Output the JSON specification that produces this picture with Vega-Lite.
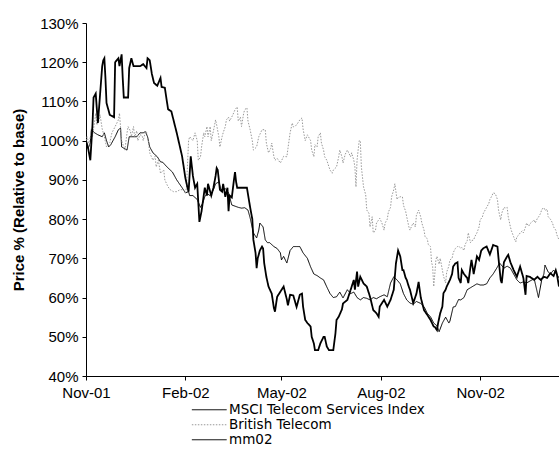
{
  "$schema": "https://vega.github.io/schema/vega-lite/v6.json",
  "width": 473,
  "height": 353,
  "autosize": {"type": "none"},
  "padding": {"left": 86, "top": 23, "right": 0, "bottom": 88},
  "background": "white",
  "config": {"font": "Liberation Sans", "view": {"stroke": null}},
  "datasets": {
    "mm02": [
      {"date":"2001-11-01","price":100},{"date":"2001-11-03","price":98},{"date":"2001-11-05","price":95},{"date":"2001-11-07","price":104},{"date":"2001-11-08","price":111},{"date":"2001-11-10","price":112},{"date":"2001-11-12","price":104.5},{"date":"2001-11-13","price":108},{"date":"2001-11-16","price":119},{"date":"2001-11-17","price":120.5},{"date":"2001-11-18","price":121},{"date":"2001-11-19","price":116},{"date":"2001-11-20","price":109.6},{"date":"2001-11-23","price":106.6},{"date":"2001-11-27","price":106},{"date":"2001-11-28","price":120},{"date":"2001-12-01","price":121},{"date":"2001-12-02","price":119},{"date":"2001-12-04","price":122},{"date":"2001-12-05","price":116},{"date":"2001-12-06","price":111},{"date":"2001-12-10","price":111},{"date":"2001-12-11","price":118.5},{"date":"2001-12-13","price":121},{"date":"2001-12-15","price":119},{"date":"2001-12-21","price":119},{"date":"2001-12-24","price":119.5},{"date":"2001-12-27","price":118.5},{"date":"2001-12-28","price":121},{"date":"2001-12-30","price":120.5},
      {"date":"2002-01-01","price":117},{"date":"2002-01-03","price":114.7},{"date":"2002-01-06","price":114},{"date":"2002-01-09","price":116},{"date":"2002-01-10","price":113.7},{"date":"2002-01-13","price":113.5},{"date":"2002-01-16","price":108},{"date":"2002-01-19","price":107.5},{"date":"2002-01-24","price":102},{"date":"2002-01-29","price":96},{"date":"2002-02-01","price":90.5},{"date":"2002-02-03","price":88},{"date":"2002-02-04","price":87},{"date":"2002-02-06","price":96},{"date":"2002-02-08","price":91},{"date":"2002-02-10","price":88},{"date":"2002-02-12","price":89},{"date":"2002-02-14","price":79.3},{"date":"2002-02-16","price":82},{"date":"2002-02-17","price":84},{"date":"2002-02-19","price":88},{"date":"2002-02-21","price":86},{"date":"2002-02-22","price":89},{"date":"2002-02-25","price":86},{"date":"2002-02-27","price":88},
      {"date":"2002-03-01","price":91},{"date":"2002-03-02","price":93},{"date":"2002-03-03","price":92.5},{"date":"2002-03-05","price":87.5},{"date":"2002-03-07","price":87},{"date":"2002-03-08","price":89},{"date":"2002-03-10","price":85.7},{"date":"2002-03-12","price":88},{"date":"2002-03-13","price":82},{"date":"2002-03-14","price":86},{"date":"2002-03-16","price":85.5},{"date":"2002-03-18","price":90},{"date":"2002-03-19","price":92},{"date":"2002-03-20","price":89.5},{"date":"2002-03-21","price":88},{"date":"2002-03-24","price":88},{"date":"2002-03-26","price":88},{"date":"2002-03-30","price":88},
      {"date":"2002-04-02","price":83},{"date":"2002-04-04","price":80},{"date":"2002-04-05","price":74.7},{"date":"2002-04-07","price":71.4},{"date":"2002-04-08","price":67.5},{"date":"2002-04-09","price":70},{"date":"2002-04-11","price":72},{"date":"2002-04-13","price":73},{"date":"2002-04-14","price":72.5},{"date":"2002-04-15","price":68.8},{"date":"2002-04-17","price":65.3},{"date":"2002-04-19","price":62.8},{"date":"2002-04-22","price":61},{"date":"2002-04-24","price":57.3},{"date":"2002-04-25","price":56.4},{"date":"2002-04-27","price":60.2},{"date":"2002-04-30","price":61.5},
      {"date":"2002-05-03","price":62.8},{"date":"2002-05-06","price":59.5},{"date":"2002-05-07","price":58},{"date":"2002-05-09","price":60.7},{"date":"2002-05-12","price":60.5},{"date":"2002-05-15","price":57.6},{"date":"2002-05-18","price":60.7},{"date":"2002-05-20","price":61},{"date":"2002-05-21","price":57.7},{"date":"2002-05-23","price":54.3},{"date":"2002-05-25","price":53.5},{"date":"2002-05-28","price":52.6},{"date":"2002-05-29","price":50},{"date":"2002-05-31","price":48.3},
      {"date":"2002-06-01","price":46.6},{"date":"2002-06-04","price":46.6},{"date":"2002-06-06","price":48.3},{"date":"2002-06-09","price":50},{"date":"2002-06-10","price":50},{"date":"2002-06-12","price":47.5},{"date":"2002-06-14","price":46.6},{"date":"2002-06-18","price":46.6},{"date":"2002-06-20","price":50.9},{"date":"2002-06-21","price":54.3},{"date":"2002-06-23","price":55.1},{"date":"2002-06-26","price":57},{"date":"2002-06-27","price":58.5},
      {"date":"2002-07-01","price":59.4},{"date":"2002-07-04","price":61.9},{"date":"2002-07-07","price":64.5},{"date":"2002-07-08","price":62},{"date":"2002-07-10","price":66.6},{"date":"2002-07-11","price":62.8},{"date":"2002-07-13","price":65.3},{"date":"2002-07-16","price":63.6},{"date":"2002-07-19","price":62.8},{"date":"2002-07-22","price":60.2},{"date":"2002-07-25","price":56.8},{"date":"2002-07-28","price":56},{"date":"2002-07-30","price":55.1},{"date":"2002-07-31","price":57.7},
      {"date":"2002-08-04","price":59.4},{"date":"2002-08-07","price":57.7},{"date":"2002-08-10","price":59.4},{"date":"2002-08-13","price":62},{"date":"2002-08-15","price":68.7},{"date":"2002-08-17","price":72},{"date":"2002-08-19","price":70.5},{"date":"2002-08-21","price":67},{"date":"2002-08-22","price":67},{"date":"2002-08-24","price":65},{"date":"2002-08-25","price":64.5},{"date":"2002-08-27","price":62.7},{"date":"2002-08-28","price":62},{"date":"2002-08-31","price":58.6},
      {"date":"2002-09-03","price":61},{"date":"2002-09-05","price":64},{"date":"2002-09-07","price":60},{"date":"2002-09-10","price":56.8},{"date":"2002-09-13","price":55.6},{"date":"2002-09-16","price":54.3},{"date":"2002-09-19","price":52.6},{"date":"2002-09-20","price":52.5},{"date":"2002-09-22","price":51.7},{"date":"2002-09-23","price":53.4},{"date":"2002-09-25","price":56},{"date":"2002-09-27","price":57.7},{"date":"2002-09-28","price":61.1},{"date":"2002-09-30","price":62},
      {"date":"2002-10-01","price":62.8},{"date":"2002-10-04","price":64.5},{"date":"2002-10-06","price":66},{"date":"2002-10-07","price":67.9},{"date":"2002-10-09","price":68.7},{"date":"2002-10-11","price":69},{"date":"2002-10-12","price":65},{"date":"2002-10-14","price":63.7},{"date":"2002-10-15","price":67},{"date":"2002-10-17","price":66},{"date":"2002-10-20","price":65},{"date":"2002-10-21","price":63.7},{"date":"2002-10-23","price":67.8},{"date":"2002-10-24","price":69.6},{"date":"2002-10-26","price":66},{"date":"2002-10-29","price":70.5},{"date":"2002-10-31","price":69.6},
      {"date":"2002-11-02","price":72},{"date":"2002-11-04","price":72.6},{"date":"2002-11-07","price":73},{"date":"2002-11-10","price":71},{"date":"2002-11-13","price":73.4},{"date":"2002-11-17","price":73},{"date":"2002-11-18","price":70},{"date":"2002-11-20","price":64.5},{"date":"2002-11-21","price":63.7},{"date":"2002-11-23","price":69},{"date":"2002-11-26","price":70.5},{"date":"2002-11-27","price":70.9},{"date":"2002-11-29","price":69},
      {"date":"2002-12-02","price":67},{"date":"2002-12-05","price":65.3},{"date":"2002-12-08","price":67.9},{"date":"2002-12-11","price":65},{"date":"2002-12-13","price":60.7},{"date":"2002-12-14","price":65.5},{"date":"2002-12-17","price":65.3},{"date":"2002-12-21","price":64.5},{"date":"2002-12-24","price":65.3},{"date":"2002-12-27","price":64.5},{"date":"2002-12-30","price":65.3},{"date":"2003-01-02","price":65},{"date":"2003-01-05","price":66.2},{"date":"2003-01-08","price":65.5},{"date":"2003-01-10","price":67},{"date":"2003-01-11","price":66},{"date":"2003-01-13","price":62.8}
    ],
    "msci": [
      {"date":"2001-11-01","price":100},{"date":"2001-11-03","price":98},{"date":"2001-11-05","price":99.5},{"date":"2001-11-06","price":102.8},{"date":"2001-11-09","price":102},{"date":"2001-11-12","price":101.5},{"date":"2001-11-16","price":101},{"date":"2001-11-18","price":102},{"date":"2001-11-20","price":100},{"date":"2001-11-22","price":98.4},{"date":"2001-11-24","price":99},{"date":"2001-11-26","price":100},{"date":"2001-11-28","price":101},{"date":"2001-12-01","price":102.8},{"date":"2001-12-03","price":103.2},{"date":"2001-12-04","price":98.4},{"date":"2001-12-09","price":97.6},{"date":"2001-12-11","price":101},{"date":"2001-12-13","price":101},{"date":"2001-12-18","price":101},{"date":"2001-12-21","price":102},{"date":"2001-12-24","price":102},{"date":"2001-12-26","price":102.3},{"date":"2001-12-28","price":101},{"date":"2001-12-30","price":98.4},
      {"date":"2002-01-02","price":96.9},{"date":"2002-01-06","price":95.9},{"date":"2002-01-09","price":94.6},{"date":"2002-01-11","price":94.5},{"date":"2002-01-15","price":93.3},{"date":"2002-01-20","price":92},{"date":"2002-01-24","price":90},{"date":"2002-01-29","price":88},{"date":"2002-02-01","price":86.7},{"date":"2002-02-04","price":87},{"date":"2002-02-05","price":86},{"date":"2002-02-08","price":86},{"date":"2002-02-12","price":85},{"date":"2002-02-15","price":83},{"date":"2002-02-17","price":84},{"date":"2002-02-19","price":85.7},{"date":"2002-02-21","price":86.5},{"date":"2002-02-24","price":86},{"date":"2002-02-27","price":87.5},
      {"date":"2002-03-01","price":89},{"date":"2002-03-04","price":89.5},{"date":"2002-03-06","price":87.5},{"date":"2002-03-10","price":87.8},{"date":"2002-03-13","price":86.7},{"date":"2002-03-16","price":83.6},{"date":"2002-03-19","price":83.3},{"date":"2002-03-22","price":83},{"date":"2002-03-25","price":82.8},{"date":"2002-03-28","price":82.9},{"date":"2002-03-31","price":82.3},
      {"date":"2002-04-02","price":80.3},{"date":"2002-04-05","price":76.5},{"date":"2002-04-08","price":75.2},{"date":"2002-04-10","price":77.2},{"date":"2002-04-11","price":79},{"date":"2002-04-14","price":78},{"date":"2002-04-16","price":74.7},{"date":"2002-04-18","price":74},{"date":"2002-04-20","price":74},{"date":"2002-04-24","price":73},{"date":"2002-04-27","price":72.5},{"date":"2002-04-30","price":71.4},
      {"date":"2002-05-01","price":69.6},{"date":"2002-05-03","price":70.5},{"date":"2002-05-06","price":68.8},{"date":"2002-05-09","price":72},{"date":"2002-05-12","price":73},{"date":"2002-05-15","price":73},{"date":"2002-05-18","price":73},{"date":"2002-05-21","price":71.4},{"date":"2002-05-25","price":70},{"date":"2002-05-28","price":67.8},{"date":"2002-05-31","price":66},
      {"date":"2002-06-03","price":65.6},{"date":"2002-06-06","price":65},{"date":"2002-06-09","price":64.5},{"date":"2002-06-12","price":62.7},{"date":"2002-06-15","price":61},{"date":"2002-06-18","price":60},{"date":"2002-06-21","price":60.2},{"date":"2002-06-24","price":61.4},{"date":"2002-06-27","price":59.9},
      {"date":"2002-07-01","price":62},{"date":"2002-07-04","price":61},{"date":"2002-07-07","price":61.4},{"date":"2002-07-10","price":60},{"date":"2002-07-13","price":59.4},{"date":"2002-07-16","price":60},{"date":"2002-07-19","price":59.8},{"date":"2002-07-22","price":59.4},{"date":"2002-07-25","price":60},{"date":"2002-07-28","price":59.7},{"date":"2002-07-31","price":60.2},
      {"date":"2002-08-04","price":60.7},{"date":"2002-08-07","price":60.2},{"date":"2002-08-10","price":63.7},{"date":"2002-08-13","price":65.3},{"date":"2002-08-16","price":64.5},{"date":"2002-08-19","price":63.5},{"date":"2002-08-22","price":61},{"date":"2002-08-25","price":59.4},{"date":"2002-08-28","price":58.6},{"date":"2002-08-31","price":58.3},
      {"date":"2002-09-03","price":59},{"date":"2002-09-07","price":58.5},{"date":"2002-09-10","price":57.7},{"date":"2002-09-13","price":56},{"date":"2002-09-16","price":55.1},{"date":"2002-09-19","price":53.5},{"date":"2002-09-22","price":52.8},{"date":"2002-09-24","price":51.3},{"date":"2002-09-27","price":53.5},{"date":"2002-09-30","price":55},
      {"date":"2002-10-03","price":53.5},{"date":"2002-10-04","price":54},{"date":"2002-10-07","price":57.6},{"date":"2002-10-09","price":57.7},{"date":"2002-10-12","price":59.5},{"date":"2002-10-14","price":59.4},{"date":"2002-10-17","price":60},{"date":"2002-10-20","price":62},{"date":"2002-10-23","price":62.5},{"date":"2002-10-26","price":63},{"date":"2002-10-29","price":63.5},
      {"date":"2002-11-01","price":63.2},{"date":"2002-11-04","price":63.2},{"date":"2002-11-07","price":63.5},{"date":"2002-11-10","price":65},{"date":"2002-11-13","price":66},{"date":"2002-11-17","price":67.8},{"date":"2002-11-19","price":68.8},{"date":"2002-11-23","price":67.5},{"date":"2002-11-26","price":68},{"date":"2002-11-29","price":67.5},
      {"date":"2002-12-02","price":66},{"date":"2002-12-05","price":64.5},{"date":"2002-12-08","price":63.7},{"date":"2002-12-11","price":64},{"date":"2002-12-14","price":63.7},{"date":"2002-12-17","price":64.2},{"date":"2002-12-21","price":64.8},{"date":"2002-12-24","price":61.2},{"date":"2002-12-25","price":60},{"date":"2002-12-28","price":64.5},{"date":"2002-12-30","price":66},{"date":"2002-12-31","price":68.3},{"date":"2003-01-03","price":66.5},{"date":"2003-01-05","price":66},{"date":"2003-01-08","price":67},{"date":"2003-01-11","price":66},{"date":"2003-01-13","price":65}
    ],
    "bt": [
      {"date":"2001-11-01","price":100},{"date":"2001-11-02","price":101},{"date":"2001-11-04","price":99},{"date":"2001-11-06","price":103},{"date":"2001-11-07","price":101},{"date":"2001-11-10","price":107},{"date":"2001-11-11","price":104},{"date":"2001-11-13","price":105},{"date":"2001-11-14","price":106.6},{"date":"2001-11-16","price":103},{"date":"2001-11-18","price":101},{"date":"2001-11-20","price":98.4},{"date":"2001-11-23","price":99.5},{"date":"2001-11-25","price":102},{"date":"2001-11-28","price":103.6},
      {"date":"2001-12-01","price":105.3},{"date":"2001-12-02","price":107},{"date":"2001-12-04","price":100},{"date":"2001-12-07","price":97.6},{"date":"2001-12-09","price":102},{"date":"2001-12-10","price":103.6},{"date":"2001-12-12","price":102.5},{"date":"2001-12-13","price":101},{"date":"2001-12-15","price":103.6},{"date":"2001-12-16","price":101},{"date":"2001-12-18","price":102.5},{"date":"2001-12-19","price":100},{"date":"2001-12-21","price":101.5},{"date":"2001-12-23","price":101.3},{"date":"2001-12-24","price":100},{"date":"2001-12-26","price":102.3},{"date":"2001-12-27","price":102.3},{"date":"2001-12-29","price":99.4},{"date":"2001-12-30","price":96.9},
      {"date":"2002-01-02","price":95},{"date":"2002-01-04","price":96},{"date":"2002-01-05","price":93.3},{"date":"2002-01-07","price":95},{"date":"2002-01-09","price":91.7},{"date":"2002-01-12","price":92.5},{"date":"2002-01-13","price":90},{"date":"2002-01-16","price":88.2},{"date":"2002-01-18","price":87.5},{"date":"2002-01-21","price":87},{"date":"2002-01-24","price":87},{"date":"2002-01-27","price":87.5},{"date":"2002-01-30","price":87.5},
      {"date":"2002-02-01","price":86.7},{"date":"2002-02-02","price":88},{"date":"2002-02-04","price":100},{"date":"2002-02-05","price":101},{"date":"2002-02-08","price":100},{"date":"2002-02-10","price":102},{"date":"2002-02-12","price":100},{"date":"2002-02-13","price":95},{"date":"2002-02-15","price":95.8},{"date":"2002-02-16","price":98.4},{"date":"2002-02-18","price":102},{"date":"2002-02-19","price":101},{"date":"2002-02-21","price":103.6},{"date":"2002-02-22","price":101},{"date":"2002-02-24","price":103.6},{"date":"2002-02-25","price":100},{"date":"2002-02-27","price":102.5},
      {"date":"2002-03-01","price":105.3},{"date":"2002-03-02","price":104},{"date":"2002-03-04","price":101},{"date":"2002-03-05","price":98.4},{"date":"2002-03-07","price":101},{"date":"2002-03-08","price":102},{"date":"2002-03-10","price":103.6},{"date":"2002-03-11","price":105.3},{"date":"2002-03-13","price":106},{"date":"2002-03-14","price":105},{"date":"2002-03-17","price":106.6},{"date":"2002-03-19","price":107.9},{"date":"2002-03-21","price":108.6},{"date":"2002-03-22","price":105},{"date":"2002-03-24","price":106},{"date":"2002-03-25","price":103.6},{"date":"2002-03-27","price":107},{"date":"2002-03-28","price":107.9},{"date":"2002-03-30","price":108.4},{"date":"2002-03-31","price":105},
      {"date":"2002-04-02","price":102.8},{"date":"2002-04-04","price":100},{"date":"2002-04-05","price":97.6},{"date":"2002-04-08","price":98.4},{"date":"2002-04-10","price":101},{"date":"2002-04-13","price":102.8},{"date":"2002-04-16","price":102.8},{"date":"2002-04-17","price":99.4},{"date":"2002-04-19","price":96.9},{"date":"2002-04-21","price":98},{"date":"2002-04-22","price":99.4},{"date":"2002-04-24","price":95.9},{"date":"2002-04-25","price":95},{"date":"2002-04-27","price":95.5},{"date":"2002-04-30","price":94.3},
      {"date":"2002-05-03","price":96},{"date":"2002-05-06","price":95.9},{"date":"2002-05-07","price":98},{"date":"2002-05-09","price":102},{"date":"2002-05-11","price":104.5},{"date":"2002-05-12","price":103.5},{"date":"2002-05-15","price":104},{"date":"2002-05-18","price":105.3},{"date":"2002-05-20","price":105.8},{"date":"2002-05-21","price":103},{"date":"2002-05-23","price":100},{"date":"2002-05-25","price":101.5},{"date":"2002-05-26","price":101},{"date":"2002-05-28","price":100},{"date":"2002-05-29","price":97.6},{"date":"2002-05-31","price":95.9},
      {"date":"2002-06-01","price":99},{"date":"2002-06-03","price":98.4},{"date":"2002-06-04","price":101},{"date":"2002-06-06","price":102},{"date":"2002-06-07","price":99.4},{"date":"2002-06-09","price":97.6},{"date":"2002-06-10","price":95.9},{"date":"2002-06-12","price":95},{"date":"2002-06-14","price":93.3},{"date":"2002-06-15","price":92.5},{"date":"2002-06-17","price":91.7},{"date":"2002-06-18","price":92.5},{"date":"2002-06-21","price":93.3},{"date":"2002-06-23","price":95.9},{"date":"2002-06-24","price":97.6},{"date":"2002-06-26","price":95.9},{"date":"2002-06-27","price":94.3},{"date":"2002-06-29","price":96.5},
      {"date":"2002-07-01","price":97.6},{"date":"2002-07-04","price":95.9},{"date":"2002-07-05","price":96.9},{"date":"2002-07-07","price":95},{"date":"2002-07-08","price":93.3},{"date":"2002-07-09","price":88.2},{"date":"2002-07-10","price":95},{"date":"2002-07-11","price":97.6},{"date":"2002-07-12","price":100},{"date":"2002-07-13","price":100},{"date":"2002-07-14","price":93.3},{"date":"2002-07-16","price":88.2},{"date":"2002-07-18","price":86.2},{"date":"2002-07-19","price":82.3},{"date":"2002-07-21","price":81.5},{"date":"2002-07-22","price":78},{"date":"2002-07-24","price":80.6},{"date":"2002-07-25","price":76.5},{"date":"2002-07-27","price":77},{"date":"2002-07-28","price":79},{"date":"2002-07-30","price":79.8},{"date":"2002-07-31","price":80.2},
      {"date":"2002-08-02","price":79},{"date":"2002-08-04","price":77.2},{"date":"2002-08-05","price":79},{"date":"2002-08-07","price":80},{"date":"2002-08-08","price":81.8},{"date":"2002-08-10","price":83},{"date":"2002-08-11","price":85.7},{"date":"2002-08-13","price":87.5},{"date":"2002-08-14","price":89},{"date":"2002-08-16","price":85},{"date":"2002-08-17","price":85.5},{"date":"2002-08-19","price":85.7},{"date":"2002-08-21","price":85.7},{"date":"2002-08-22","price":83.5},{"date":"2002-08-24","price":82},{"date":"2002-08-25","price":80.6},{"date":"2002-08-27","price":78},{"date":"2002-08-28","price":77.2},{"date":"2002-08-30","price":78.5},{"date":"2002-08-31","price":79},
      {"date":"2002-09-02","price":78},{"date":"2002-09-03","price":81},{"date":"2002-09-05","price":82.3},{"date":"2002-09-07","price":80.5},{"date":"2002-09-08","price":79},{"date":"2002-09-10","price":77.2},{"date":"2002-09-11","price":75.5},{"date":"2002-09-13","price":75},{"date":"2002-09-14","price":73.5},{"date":"2002-09-16","price":73},{"date":"2002-09-17","price":69},{"date":"2002-09-18","price":67.9},{"date":"2002-09-19","price":62.8},{"date":"2002-09-20","price":66},{"date":"2002-09-21","price":69.6},{"date":"2002-09-22","price":70.5},{"date":"2002-09-24","price":68.5},{"date":"2002-09-25","price":70},{"date":"2002-09-27","price":67},{"date":"2002-09-28","price":65.5},{"date":"2002-09-30","price":63.7},
      {"date":"2002-10-01","price":66.5},{"date":"2002-10-03","price":68},{"date":"2002-10-04","price":69.6},{"date":"2002-10-06","price":70},{"date":"2002-10-07","price":71.4},{"date":"2002-10-09","price":72.5},{"date":"2002-10-11","price":73},{"date":"2002-10-12","price":73.2},{"date":"2002-10-14","price":72.5},{"date":"2002-10-15","price":72.8},{"date":"2002-10-17","price":72},{"date":"2002-10-18","price":73.5},{"date":"2002-10-20","price":74.5},{"date":"2002-10-21","price":76.5},{"date":"2002-10-23","price":74},{"date":"2002-10-24","price":74.5},{"date":"2002-10-26","price":74.7},{"date":"2002-10-27","price":75.5},{"date":"2002-10-29","price":76.5},{"date":"2002-10-31","price":78},
      {"date":"2002-11-01","price":79.8},{"date":"2002-11-03","price":80.5},{"date":"2002-11-04","price":81.5},{"date":"2002-11-06","price":82.5},{"date":"2002-11-07","price":83},{"date":"2002-11-09","price":84},{"date":"2002-11-10","price":85},{"date":"2002-11-12","price":86},{"date":"2002-11-13","price":86.7},{"date":"2002-11-15","price":86.5},{"date":"2002-11-17","price":85},{"date":"2002-11-18","price":82.3},{"date":"2002-11-20","price":79.8},{"date":"2002-11-21","price":81.5},{"date":"2002-11-23","price":83},{"date":"2002-11-24","price":82.8},{"date":"2002-11-26","price":83},{"date":"2002-11-27","price":80.6},{"date":"2002-11-29","price":78},{"date":"2002-11-30","price":77},
      {"date":"2002-12-02","price":75.5},{"date":"2002-12-04","price":74.2},{"date":"2002-12-05","price":75.5},{"date":"2002-12-07","price":76},{"date":"2002-12-08","price":76.5},{"date":"2002-12-10","price":77},{"date":"2002-12-11","price":76.5},{"date":"2002-12-13","price":78},{"date":"2002-12-14","price":79},{"date":"2002-12-16","price":78.2},{"date":"2002-12-17","price":78.8},{"date":"2002-12-19","price":79.3},{"date":"2002-12-21","price":79.8},{"date":"2002-12-22","price":79},{"date":"2002-12-24","price":80.2},{"date":"2002-12-25","price":80.5},{"date":"2002-12-27","price":81.5},{"date":"2002-12-28","price":82.5},{"date":"2002-12-30","price":82.9},{"date":"2002-12-31","price":82.2},
      {"date":"2003-01-02","price":82.5},{"date":"2003-01-03","price":80.6},{"date":"2003-01-05","price":80},{"date":"2003-01-07","price":79},{"date":"2003-01-08","price":78},{"date":"2003-01-10","price":77.2},{"date":"2003-01-11","price":76},{"date":"2003-01-13","price":74.7}
    ]
  },
  "encoding": {
    "x": {
      "field": "date", "type": "temporal",
      "scale": {"type": "utc", "domain": [{"year": 2001, "month": 11, "date": 1, "utc": true}, {"year": 2003, "month": 1, "date": 13, "utc": true}]},
      "axis": {
        "title": null, "grid": false, "format": "%b-%y", "labelFlush": false, "labelOverlap": false,
        "values": [{"year": 2001, "month": 11, "date": 1, "utc": true}, {"year": 2002, "month": 2, "date": 1, "utc": true}, {"year": 2002, "month": 5, "date": 1, "utc": true}, {"year": 2002, "month": 8, "date": 1, "utc": true}, {"year": 2002, "month": 11, "date": 1, "utc": true}],
        "labelFontSize": 15, "labelColor": "#000", "domainColor": "#000", "tickColor": "#000", "tickSize": 4, "labelPadding": 5
      }
    },
    "y": {
      "field": "price", "type": "quantitative",
      "scale": {"domain": [40, 130], "nice": false, "zero": false},
      "axis": {
        "values": [40, 50, 60, 70, 80, 90, 100, 110, 120, 130], "labelExpr": "datum.value + '%'", "grid": false,
        "title": "Price % (Relative to base)", "titleFontSize": 15, "titleFontWeight": "bold", "titleColor": "#000",
        "titleAngle": 270, "titleAlign": "center", "titleBaseline": "bottom", "titleX": -60, "titleY": 176.5,
        "labelFontSize": 15, "labelColor": "#000", "domainColor": "#000", "tickColor": "#000", "tickSize": 4, "labelPadding": 4
      }
    }
  },
  "layer": [
    {
      "data": {"name": "msci"},
      "mark": {"type": "line", "strokeWidth": 1, "clip": true},
      "encoding": {
        "color": {
          "datum": "MSCI Telecom Services Index",
          "scale": {"domain": ["MSCI Telecom Services Index", "British Telecom", "mm02"], "range": ["#000000", "#999999", "#000000"]},
          "legend": {
            "title": null, "orient": "none", "legendX": 116.5, "legendY": 380, "padding": 0,
            "symbolType": "M-2.9,0H2.9", "symbolSize": 144, "symbolStrokeWidth": 1,
            "labelFont": "DejaVu Sans", "labelFontSize": 13.5, "labelColor": "#000", "labelOffset": 13, "symbolOffset": 0, "rowPadding": 0, "labelLimit": 400
          }
        },
        "strokeDash": {
          "datum": "MSCI Telecom Services Index",
          "scale": {"domain": ["MSCI Telecom Services Index", "British Telecom", "mm02"], "range": [[1, 0], [1.5, 1.5], [1, 0]]}
        }
      }
    },
    {
      "data": {"name": "bt"},
      "mark": {"type": "line", "strokeWidth": 1, "clip": true},
      "encoding": {
        "color": {"datum": "British Telecom"},
        "strokeDash": {"datum": "British Telecom"}
      }
    },
    {
      "data": {"name": "mm02"},
      "mark": {"type": "line", "strokeWidth": 1.8, "clip": true},
      "encoding": {
        "color": {"datum": "mm02"},
        "strokeDash": {"datum": "mm02"}
      }
    }
  ]
}
